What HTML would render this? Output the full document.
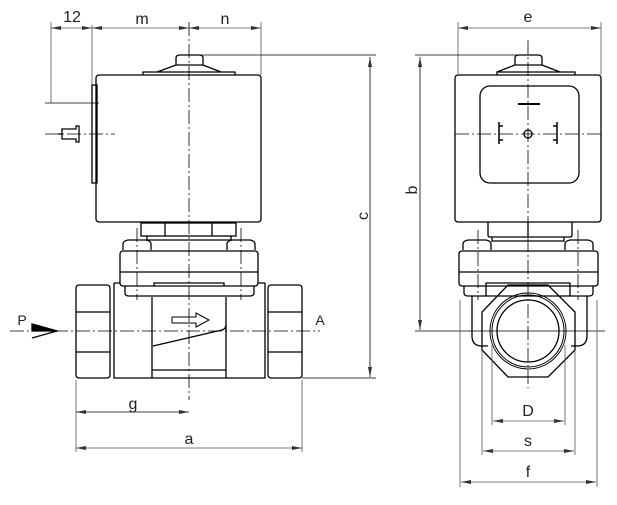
<!DOCTYPE html>
<html><head><style>html,body{margin:0;padding:0;background:#fff}svg{display:block}text{font-family:"Liberation Sans",sans-serif;fill:#222}</style></head>
<body>
<svg width="617" height="505" viewBox="0 0 617 505" xmlns="http://www.w3.org/2000/svg">
<defs>
<marker id="ar" viewBox="0 0 10 4" refX="10" refY="2" markerWidth="10" markerHeight="4" orient="auto-start-reverse" markerUnits="userSpaceOnUse"><path d="M0,0L10,2L0,4z" fill="#333"/></marker>
</defs>
<g fill="none" stroke="#000" stroke-width="1.3">
<!-- LEFT VIEW -->
<rect x="96" y="75" width="165" height="147" rx="3"/>
<rect x="92" y="85" width="5" height="98"/>
<path d="M143,75V72H235V75M157,72L176,65H203L221,72M176,65V58Q176,55 180,55H199Q203,55 203,58V65"/>
<path d="M58,134h4v-5h14v-3h3v16h-3v-3h-14v-5" />
<rect x="141" y="223" width="95" height="13"/>
<path d="M165,223v13M212,223v13M147,236v4h84v-4"/>
<path d="M123,250v-6q0-3 5-4h18q5 1 5 4v6M227,250v-6q0-3 5-4h18q5 1 5 4v6"/>
<rect x="120" y="251" width="138" height="35" rx="3"/>
<path d="M120,272H258M125,286v7q0 3 4 3H250q4 0 4-3v-7M154,286v-3h70v3"/>
<path d="M114,283V378H265V283M114,283h6M258,283h7"/>
<rect x="76" y="285" width="34" height="93" rx="3"/>
<path d="M76,312H110M76,352H110"/>
<rect x="268" y="285" width="34" height="93" rx="3"/>
<path d="M268,312H302M268,352H302"/>
<path d="M152,297V378M226,297V378M152,370H226M153,346L222,330Q226,329 226,324"/>
<path d="M172,317h24v-4l13,7l-13,7v-4h-24z" stroke-width="1"/>
<path d="M32,324L57,331L32,338" fill="#fff"/><path d="M32,324L57,331L32,331z" fill="#000"/>
<!-- RIGHT VIEW -->
<rect x="455" y="75" width="146" height="147" rx="3"/>
<rect x="480" y="86" width="99" height="97" rx="10"/>
<path d="M497,75V72H575V75M497,72L515,65H542L560,72M515,65V58Q515,55 519,55H538Q542,55 542,58V65"/>
<path d="M518,104h22" stroke-width="2"/>
<circle cx="528" cy="134" r="4"/>
<path d="M499,122v22M499,126h4M499,140h4M557,122v22M557,126h-4M557,140h-4" stroke-width="1.5"/>
<path d="M488,222v13q0 2 2 2h80q2 0 2-2v-13M528,222v15M492,237v4h72v-4"/>
<path d="M463,250v-6q0-3 5-4h18q5 1 5 4v6M565,250v-6q0-3 5-4h18q5 1 5 4v6"/>
<rect x="459" y="251" width="139" height="35" rx="3"/>
<path d="M459,272H598M464,286v7q0 3 4 3H589q4 0 4-3v-7"/>
<path d="M472,296v40q0 10 10 10h6M587,296v40q0 10-10 10h-6"/>
<path d="M486,296V283H570V296"/>
<path d="M508,285H548L575,312V350L548,377H508L482,350V312z"/>
<circle cx="528" cy="331" r="38" stroke-width="1"/>
<circle cx="528" cy="331" r="36" stroke-width="1"/>
<circle cx="528" cy="331" r="31"/>
</g>
<!-- centerlines -->
<g stroke="#000" stroke-width="0.8" fill="none" stroke-dasharray="14,3,2,3">
<path d="M189,22V400"/><path d="M10,331H320"/>
<path d="M137,228V300M241,228V300" />
<path d="M528,40V388"/><path d="M455,134H601"/><path d="M45,134H115"/>
<path d="M478,230V300M578,230V300"/>
</g>
<path d="M415,331H605" stroke="#000" stroke-width="0.8"/>
<!-- dimensions -->
<g stroke="#555" stroke-width="0.8" fill="none">
<path d="M51,22V103M92,25V85M261,22V75"/>
<path d="M51,28H92" marker-start="url(#ar)" marker-end="url(#ar)"/>
<path d="M92,28H189" marker-start="url(#ar)" marker-end="url(#ar)"/>
<path d="M189,28H261" marker-start="url(#ar)" marker-end="url(#ar)"/>
<path d="M45,103H99" stroke="#000"/>
<path d="M189,55H376M302,378H376" stroke="#000"/>
<path d="M370,57V377" stroke="#000" marker-start="url(#ar)" marker-end="url(#ar)"/>
<path d="M76,380V452M302,380V452"/>
<path d="M76,412H189" stroke="#000" marker-start="url(#ar)" marker-end="url(#ar)"/>
<path d="M76,448H302" marker-start="url(#ar)" marker-end="url(#ar)"/>
<path d="M458,22V75M601,22V75"/>
<path d="M458,28H601" marker-start="url(#ar)" marker-end="url(#ar)"/>
<path d="M415,55H528" stroke="#000"/>
<path d="M420,57V330" stroke="#000" marker-start="url(#ar)" marker-end="url(#ar)"/>
<path d="M492,345V425M565,345V425M482,350V455M575,350V455M460,300V487M597,300V487"/>
<path d="M493,421H564" marker-start="url(#ar)" marker-end="url(#ar)"/>
<path d="M483,451H574" marker-start="url(#ar)" marker-end="url(#ar)"/>
<path d="M461,482H596" marker-start="url(#ar)" marker-end="url(#ar)"/>
</g>
<g font-size="16" text-anchor="middle">
<text x="72" y="22">12</text><text x="142" y="24">m</text><text x="225" y="24">n</text>
<text x="133" y="409">g</text><text x="189" y="444">a</text>
<text x="22" y="325" font-family="Liberation Mono" font-size="14">P</text><text x="320" y="325" font-family="Liberation Mono" font-size="14">A</text>
<text x="528" y="22">e</text><text x="528" y="416">D</text><text x="528" y="446">s</text><text x="528" y="477">f</text>
<text transform="translate(368,216) rotate(-90)">c</text>
<text transform="translate(417,190) rotate(-90)">b</text>
</g>
</svg>
</body></html>
